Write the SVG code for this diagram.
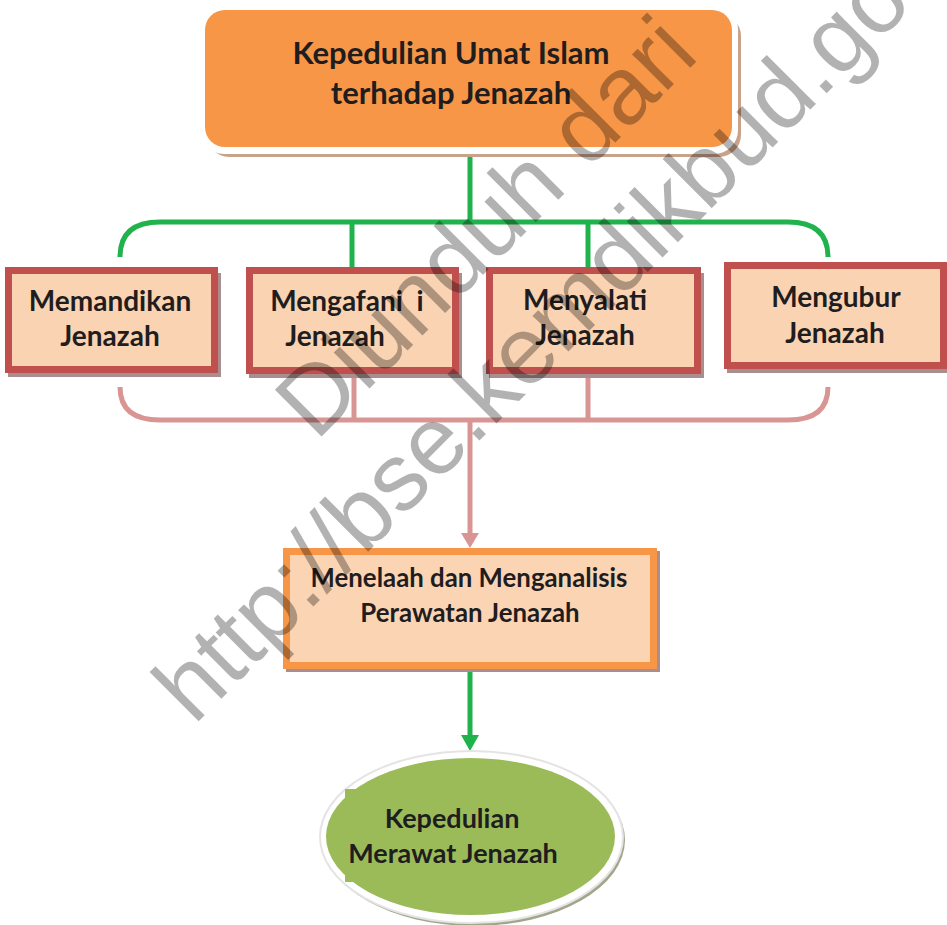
<svg xmlns="http://www.w3.org/2000/svg" width="947" height="925" viewBox="0 0 947 925">
<style>
text{font-family:Lato,"Open Sans","Liberation Sans",sans-serif;font-weight:bold;fill:#1f1d1e;text-anchor:middle}
.box{fill:#fad3b2;stroke:#c0504d;stroke-width:7}
.shadow{fill:#a88e8e}
.green{fill:none;stroke:#20b24c;stroke-width:5}
.pink{fill:none;stroke:#d99594;stroke-width:5}
.wm{font-family:"Liberation Sans",Arial,sans-serif;font-weight:normal;font-size:96px;fill:#000;fill-opacity:0.3;text-anchor:start}
</style>
<rect width="947" height="925" fill="#fff"/>
<g id="connectors">
<path class="green" d="M470,150 V222"/>
<path class="green" d="M120,257 Q120,222 160,222 H788 Q828,222 828,257"/>
<path class="green" d="M352,222 V268"/>
<path class="green" d="M588,222 V268"/>
<path class="pink" d="M120,387 Q120,420 160,420 H788 Q828,420 828,387"/>
<path class="pink" d="M354,374 V420"/>
<path class="pink" d="M588,374 V420"/>
<path class="pink" d="M470,420 V535"/>
<polygon points="461,533 479,533 470,548" fill="#d99594"/>
<path class="green" d="M470,670 V737"/>
<polygon points="461,735 479,735 470,751" fill="#20b24c"/>
</g>
<g id="top">
<rect x="207" y="14" width="534" height="143" rx="22" fill="#c9a28a"/>
<rect x="200" y="5" width="538" height="149" rx="24" fill="#fff"/>
<rect x="205" y="10" width="527" height="137" rx="20" fill="#f79646"/>
<text x="451" y="64" font-size="31">Kepedulian Umat Islam</text>
<text x="451" y="104" font-size="31">terhadap Jenazah</text>
</g>
<g id="memandikan">
<rect class="shadow" x="8" y="273" width="213" height="104"/>
<rect class="box" x="8.5" y="270.5" width="206" height="99"/>
<text x="110" y="311" font-size="28">Memandikan</text>
<text x="110" y="346" font-size="28">Jenazah</text>
</g>
<g id="mengafani">
<rect class="shadow" x="249" y="273" width="213" height="105"/>
<rect class="box" x="249.5" y="270.5" width="206" height="100"/>
<text x="347" y="311" font-size="28" style="white-space:pre">Mengafani  i</text>
<text x="335" y="346" font-size="28">Jenazah</text>
</g>
<g id="menyalati">
<rect class="shadow" x="489" y="273" width="215" height="105"/>
<rect class="box" x="489.5" y="270.5" width="208" height="100"/>
<text x="585" y="310" font-size="28">Menyalati</text>
<text x="585" y="345" font-size="28">Jenazah</text>
</g>
<g id="mengubur">
<rect class="shadow" x="727" y="268" width="223" height="105"/>
<rect class="box" x="727.5" y="265.5" width="216" height="100"/>
<text x="836" y="307" font-size="28">Mengubur</text>
<text x="835" y="343" font-size="28">Jenazah</text>
</g>
<g id="menelaah">
<rect class="shadow" x="286" y="551" width="374" height="121"/>
<rect x="286.5" y="551.5" width="367" height="114" fill="#fbd4b4" stroke="#f79646" stroke-width="7"/>
<text x="469" y="587" font-size="25.8">Menelaah dan Menganalisis</text>
<text x="470" y="622" font-size="25.8">Perawatan Jenazah</text>
</g>
<g id="kepedulian-merawat">
<ellipse cx="474" cy="840" rx="151" ry="86" fill="#a3a58a"/>
<ellipse cx="471.5" cy="837" rx="151.5" ry="86" fill="#fff" stroke="#e4e4e4" stroke-width="2"/>
<ellipse cx="470.5" cy="836.5" rx="144.5" ry="78.5" fill="#9bbb59"/>
<rect x="345" y="789" width="215" height="93" fill="#9bbb59"/>
<text x="452" y="828" font-size="27">Kepedulian</text>
<text x="453" y="863" font-size="27">Merawat Jenazah</text>
</g>
<g id="watermark">
<text class="wm" transform="translate(316,442) rotate(-45)">Diunduh dari</text>
<text class="wm" transform="translate(194,726) rotate(-45)">http://bse.kemdikbud.go.id</text>
</g>
</svg>
